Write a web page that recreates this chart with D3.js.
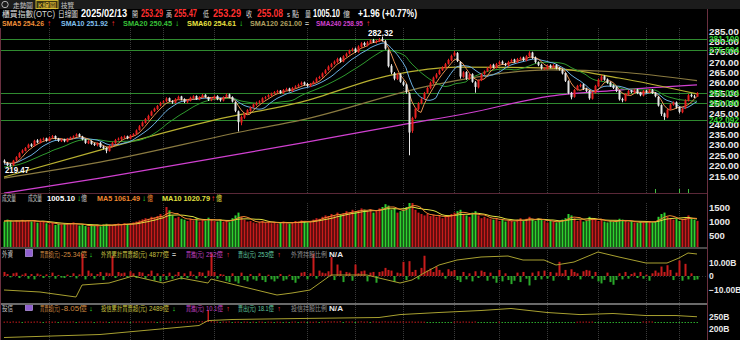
<!DOCTYPE html>
<html>
<head>
<meta charset="utf-8">
<script src="https://cdn.jsdelivr.net/npm/d3@7"></script>
<style>
body{margin:0;background:#000;}
svg{display:block;}
text{font-family:"Liberation Sans","Noto Sans CJK TC",sans-serif;}
</style>
</head>
<body>
<svg id="chart" width="740" height="340"></svg>
<script>
// 日線 資料 (櫃買指數)
var priorCloses = [218.0,217.2,216.5,217.8,218.6,217.9,219.0,218.2,217.5,218.8,219.6,218.9,220.2,221.0,220.4,219.8,221.5,222.3,221.9];
var closes = [
221.5,220.2,220.0,222.4,224.1,226.0,227.3,228.5,230.1,229.4,
232.0,231.2,232.6,233.0,232.1,233.5,234.2,233.0,232.0,232.5,
231.8,233.0,233.6,234.1,235.0,234.2,232.6,231.0,231.8,230.5,
230.0,230.8,229.0,228.4,227.2,229.5,231.0,232.4,233.0,233.8,
234.0,233.2,234.6,235.2,237.0,239.0,240.8,242.5,244.0,246.1,
247.5,248.8,250.2,251.0,252.4,251.2,250.5,252.0,253.2,252.0,
250.8,251.5,252.8,253.5,252.2,253.0,254.0,253.2,251.8,252.5,
253.5,252.0,251.6,253.0,254.2,253.0,251.0,246.5,241.0,243.5,
245.0,246.8,248.0,249.5,250.2,251.0,252.5,253.0,254.0,254.8,
255.5,256.0,255.2,256.5,257.0,256.2,257.5,258.2,259.0,260.0,
259.2,258.5,259.4,260.5,262.0,262.8,264.5,266.0,267.8,269.0,
270.2,271.5,270.5,272.8,274.0,275.5,276.2,275.0,277.5,279.0,
278.2,279.5,280.5,279.8,280.2,281.0,280.5,276.5,268.0,265.0,
262.0,264.0,260.5,259.0,255.5,236.0,243.0,247.5,250.0,252.0,
255.0,257.5,260.0,262.5,264.0,266.0,267.5,269.0,271.0,273.0,
274.5,270.5,263.0,265.0,262.0,264.0,260.5,258.0,261.0,264.0,
265.5,267.0,268.5,267.5,269.0,270.0,269.2,268.5,270.0,271.0,
270.2,271.5,272.0,271.0,272.8,274.5,272.0,270.0,268.5,267.0,
267.0,268.2,267.5,268.5,267.0,266.5,264.5,261.0,255.0,253.0,
256.5,258.5,259.0,257.0,256.0,252.5,255.0,258.5,261.5,263.0,
261.5,260.0,258.5,257.5,256.0,252.0,251.5,254.5,256.0,255.5,
256.5,255.0,254.0,256.0,255.5,256.5,255.0,253.5,249.0,245.0,
243.5,247.0,249.5,250.5,248.0,246.0,247.5,251.5,254.0,253.5,
253.12,255.08];
var opens = [
222.4,221.3,220.4,220.1,222.6,224.0,226.2,227.1,228.6,230.3,
229.6,232.2,231.0,232.5,233.2,232.0,233.6,234.3,233.1,231.8,
232.6,231.6,233.1,233.5,234.2,235.2,234.0,232.8,230.8,231.9,
230.6,229.8,231.0,229.2,228.5,227.0,229.6,230.8,232.5,232.8,
233.9,234.2,233.0,234.4,235.3,237.2,239.1,240.6,242.3,244.2,
246.3,247.3,249.0,250.4,251.1,252.6,251.0,250.3,252.2,253.4,
252.2,250.6,251.3,252.6,253.6,252.0,253.1,254.2,253.0,251.6,
252.3,253.6,252.2,251.4,253.2,254.4,253.1,250.6,246.2,240.8,
243.2,245.3,246.5,248.2,249.3,250.5,250.8,252.7,253.2,253.8,
254.9,255.4,256.2,255.0,256.6,257.2,256.0,257.6,258.3,259.1,
260.2,259.4,258.3,259.6,260.6,262.2,262.9,264.6,266.2,267.7,
269.2,270.0,271.8,270.3,272.9,274.1,275.6,276.5,274.8,277.3,
279.2,278.0,279.3,280.6,279.6,280.1,281.2,280.0,275.5,268.2,
264.6,261.8,264.2,260.3,259.2,255.0,236.8,243.2,247.3,250.2,
252.3,255.2,257.4,259.8,262.6,264.2,266.1,267.3,269.2,270.8,
273.2,274.3,270.0,262.8,265.2,261.8,264.2,260.2,257.8,261.2,
264.2,265.7,266.8,268.7,267.3,269.1,270.2,269.0,268.3,270.2,
271.2,270.0,271.6,272.2,270.8,272.9,274.6,272.2,269.8,268.7,
266.8,266.9,268.4,267.3,268.6,267.2,266.3,264.7,260.8,255.2,
253.2,256.7,258.3,259.2,257.2,256.2,252.3,255.2,258.3,261.3,
263.2,261.7,260.2,258.7,257.8,256.2,252.2,251.3,254.4,256.2,
255.3,256.7,255.2,253.8,256.2,255.3,256.6,255.2,253.2,249.2,
245.2,243.3,247.2,249.3,250.6,248.2,245.8,247.7,251.3,254.2,
253.4,253.29];
var highs = [
223.0,221.8,221.0,222.8,224.6,226.5,227.9,229.0,230.6,230.8,
232.5,232.8,233.1,233.6,233.5,234.0,234.8,234.6,233.4,233.0,
233.0,233.4,234.0,234.6,235.6,235.6,234.4,233.0,232.3,232.2,
231.0,231.2,231.4,229.6,228.9,229.9,231.5,232.9,233.6,234.2,
234.6,234.5,235.0,235.7,237.5,239.6,241.4,243.0,244.6,246.6,
248.0,249.3,250.8,251.6,253.0,252.9,251.6,252.6,253.8,253.7,
252.5,252.0,253.3,254.0,253.9,253.5,254.6,254.5,253.3,253.0,
254.0,254.0,252.7,253.5,254.8,254.8,253.5,251.0,246.6,244.2,
245.6,247.3,248.6,250.0,250.9,251.6,253.0,253.6,254.5,255.3,
256.0,256.6,256.5,257.0,257.6,257.6,258.0,258.8,259.6,260.6,
260.6,259.9,259.9,261.0,262.6,263.4,265.0,266.6,268.4,269.6,
270.8,272.1,272.3,273.3,274.6,276.0,276.9,277.0,278.1,279.6,
279.8,280.1,281.0,281.2,280.8,281.6,282.32,280.6,276.0,269.0,
265.2,264.8,264.6,261.0,259.6,255.4,243.6,248.0,250.6,252.6,
255.6,258.0,260.6,263.0,264.7,266.5,268.0,269.6,271.6,273.6,
275.4,274.8,270.4,265.6,265.6,264.6,264.6,260.8,261.6,264.6,
266.0,267.6,269.0,269.2,269.6,270.6,270.8,269.6,270.6,271.6,
271.6,272.0,272.6,272.6,273.3,275.2,275.0,272.7,270.3,269.2,
267.6,268.8,268.9,269.0,269.0,267.6,266.8,265.0,261.2,255.6,
257.0,259.0,259.6,259.6,257.6,256.6,255.6,259.0,262.0,263.8,
263.6,262.1,260.6,259.2,258.3,256.5,252.8,255.0,256.6,256.6,
257.0,257.1,255.6,256.5,256.6,257.0,257.0,255.5,253.6,249.6,
245.6,247.5,250.0,251.0,251.0,248.6,248.0,252.0,254.6,254.8,
254.2,255.47];
var lows = [
221.0,219.8,219.47,219.9,222.2,223.8,225.8,226.9,228.3,229.0,
229.2,230.8,230.7,232.1,231.6,231.7,233.2,232.6,231.5,231.4,
231.3,231.3,232.8,233.1,234.0,233.8,232.2,230.5,230.4,230.1,
229.5,229.3,228.6,227.8,226.0,226.8,229.2,230.5,232.1,232.4,
233.3,232.8,232.7,234.1,235.0,236.9,238.8,240.3,242.0,243.9,
245.9,246.9,248.6,250.0,250.7,250.8,249.8,250.0,251.8,251.5,
250.2,250.1,251.0,252.2,251.7,251.6,252.7,252.8,251.2,251.1,
251.9,251.6,250.9,251.0,252.9,252.6,250.5,245.8,236.5,239.5,
242.6,244.8,246.0,247.8,248.9,249.9,250.4,252.0,252.8,253.5,
254.4,255.0,254.7,254.6,256.1,255.8,255.6,257.2,258.0,258.7,
258.7,258.0,257.9,259.2,260.2,261.8,262.5,264.2,265.8,267.3,
268.7,269.6,269.8,269.9,272.4,273.7,275.0,274.4,274.5,276.9,
277.6,277.5,278.9,279.2,279.0,279.7,279.9,276.0,267.4,264.1,
261.2,261.3,260.0,258.4,254.8,225.0,235.8,242.6,246.8,249.6,
251.8,254.7,256.9,259.4,262.0,263.8,265.7,266.9,268.8,270.4,
272.8,270.0,262.0,262.4,261.4,261.4,260.0,255.2,257.3,260.8,
263.8,265.2,266.4,267.0,266.9,268.7,268.8,268.0,267.9,269.8,
269.7,269.6,271.1,270.5,270.4,272.5,271.5,269.4,268.0,266.4,
266.2,266.4,267.0,266.9,266.5,265.9,264.0,260.4,254.5,252.0,
252.8,256.2,257.8,256.5,255.5,251.8,251.9,254.8,257.9,260.8,
261.0,259.5,258.0,257.0,255.5,251.4,250.6,251.0,254.0,255.0,
254.9,254.5,253.5,253.4,255.0,255.0,254.6,253.0,248.5,244.0,
242.1,242.9,246.8,248.9,247.5,245.2,245.3,247.3,251.0,253.0,
252.6,253.29];

// 長期均線 (讀圖取點)
var sma60At = [0,32,70,99,129,151,182,205,231];
var sma60Val = [214.5,227.5,242.0,250.7,263.7,267.6,267.1,262.3,254.61];
var sma120At = [0,32,82,99,143,182,205,231];
var sma120Val = [214.0,221.7,237.2,242.0,258.9,266.2,265.2,261.0];
var sma240At = [0,32,82,99,132,155,182,205,231];
var sma240Val = [206.7,214.0,226.5,230.9,239.6,245.4,253.6,256.5,258.95];

var fibLevels = [281.100,275.604,255.024,250.040,242.092];
var priceTicks = [285,280,275,270,265,260,255,250,245,240,235,230,225,220,215];

// 成交量 (億)
var priorVolumes = [1000,980,1020,990,1010,970,1030,1000,990];
var volumes = [
980,1050,1010,960,1020,990,1040,1000,1030,980,
1010,940,960,1000,920,880,930,860,900,870,
910,880,920,950,880,840,870,820,800,850,
830,870,810,880,900,860,840,880,910,870,
920,880,900,950,980,1020,1060,1100,1080,1150,
1120,1180,1250,1150,1500,1380,1200,1100,1150,1080,
1050,1000,1080,1020,1100,980,1040,1000,1120,1060,
1000,980,1050,970,1010,960,1100,1200,1300,1150,
1050,980,1000,950,920,960,1000,940,980,920,
950,900,940,980,920,900,960,1000,980,1020,
980,950,1000,1050,1100,1080,1150,1200,1180,1250,
1200,1300,1220,1280,1350,1300,1400,1320,1380,1450,
1400,1350,1420,1300,1380,1450,1500,1600,1550,1400,
1450,1300,1350,1400,1500,1800,1650,1400,1300,1250,
1200,1250,1180,1220,1150,1200,1100,1150,1200,1250,
1300,1350,1400,1250,1200,1150,1300,1350,1200,1100,
1150,1100,1080,1050,1100,1000,1050,980,1020,1000,
980,1050,1100,1000,1080,1150,1050,1000,1100,1050,
1000,950,1000,980,950,1000,1050,1100,1250,1200,
1100,1000,1050,980,1000,1150,1100,1050,1000,1050,
980,950,1000,970,1000,1080,1050,1000,960,980,
950,930,970,950,980,1000,950,1000,1150,1250,
1300,1150,1100,1050,1080,1000,1050,1100,1200,1100,
1050,1005.1];
var volTicks = [1500,1000,500];

// 外資 買賣超 (億)
var foreignNet = [
30,15,-10,20,25,-15,10,20,-20,15,
-25,18,10,-15,12,-10,25,-20,8,-12,
-15,10,-8,20,-18,12,165,-25,40,20,
-20,15,30,-30,25,20,150,-15,30,20,
25,-10,35,20,-15,30,25,-20,15,40,
-35,20,-40,15,-30,25,-20,10,30,-25,
20,-15,35,10,-20,30,25,-15,40,165,
30,-20,15,10,-35,-45,20,-40,-55,25,
-30,-40,15,-25,-35,20,-30,-45,10,-25,
-40,-20,15,-35,-25,10,-30,-50,-20,25,
30,-25,20,165,-20,40,25,20,35,140,
-30,85,40,-45,30,25,-35,85,20,35,
40,-40,25,30,-50,30,35,60,45,40,
-45,25,20,105,-30,110,30,45,-25,60,
150,40,55,30,70,45,25,-20,50,35,
45,-30,-45,30,-25,20,-40,35,-15,40,
30,-35,25,-20,-50,45,-40,20,-30,-60,
-35,25,-45,30,-20,-70,25,-30,35,-25,
40,-20,30,-35,25,105,20,45,-30,50,
30,20,-25,35,45,40,-20,30,-40,-55,
-30,25,-45,-65,-30,20,-25,30,-20,15,
25,-15,30,-20,10,-35,20,40,25,70,
30,80,45,-30,25,115,-35,90,-25,20,
-30,-25.34];
var foreignCumAt = [0,12,24,26,35,43,53,59,68,69,91,96,102,109,121,125,132,136,140,145,151,159,168,173,180,184,190,198,205,214,221,225,228,231];
var foreignCumVal = [3437,3357,3157,3637,3717,3997,3717,3917,3717,3877,3237,3317,3437,4037,4037,3917,3717,3837,4117,4437,4637,4757,4797,4637,4637,4437,4557,4957,4757,4517,4517,4717,4917,4877];

// 投信 買賣超 (億)
var trustNet = [
6,8,4,9,5,7,-3,6,8,5,
7,9,4,-2,6,8,5,7,-4,6,
8,5,7,9,-3,6,4,8,5,7,
-5,6,8,4,7,-3,5,9,6,4,
7,5,-4,8,6,9,5,7,4,8,
6,-3,7,5,8,6,9,4,7,5,
8,6,10,12,9,14,11,15,210,12,
8,6,-4,7,5,9,-6,4,6,-5,
7,5,-3,6,-4,8,5,-6,7,4,
-5,6,4,-3,5,-7,6,8,-4,5,
7,-5,6,4,8,-3,9,6,11,8,
10,7,12,-4,9,6,8,-5,7,10,
6,8,-6,9,7,5,8,10,6,8,
7,5,8,9,6,7,8,5,7,6,
5,-8,-6,-9,-7,-5,-8,-6,-4,-7,
6,9,5,8,7,6,4,8,-5,-9,
-7,-6,-8,-5,-9,6,-7,-5,-8,-6,
-9,-7,-5,-8,-6,-4,-7,-9,-5,-6,
-8,-6,-7,-5,-6,-4,-7,-9,-6,-8,
-6,5,7,6,8,5,7,-5,-9,-6,
-7,-5,-8,-6,-9,-7,-5,-8,-6,-7,
-5,-8,-6,9,6,10,8,-12,-5,-7,
-6,-8,-5,-9,-7,-6,-8,-5,-9,-7,
-6,-8.05];
var trustCumAt = [0,32,65,68,76,99,125,132,145,159,169,181,192,203,214,224,231];
var trustCumVal = [1625,1750,2125,2330,2375,2417,2458,2580,2667,2750,2833,2667,2580,2625,2540,2540,2489];

var gridIdx = [15,42,53,70,101,117,133,150,165,181,198,214,225];
var markIdx = [217,225,228];

var svg = d3.select("#chart");
var N = closes.length;
var plotRight = 707;

svg.append("rect").attr("width",740).attr("height",340).attr("fill","#000");

var x = d3.scaleLinear().domain([0, N - 1]).range([4, 697]);

function sma(arr, n, prior) {
	var all = prior.concat(arr);
	return arr.map(function(d, i) {
		var j = i + prior.length;
		if (j < n - 1) return null;
		return d3.mean(all.slice(j - n + 1, j + 1));
	});
}

// 文字 (寬度依原圖)
function label(px, py, txt, color, len, size, bold) {
	var t = svg.append("text").attr("x",px).attr("y",py).attr("fill",color)
		.attr("font-size",size || 8).attr("font-weight",bold ? "bold" : "normal").text(txt);
	if (len) t.attr("textLength",len).attr("lengthAdjust","spacingAndGlyphs");
	return t;
}
var arrowColor = {"↑":"#ff3030","↓":"#30e030","=":"#c0c0c0"};

// ---------- 上方標題列 ----------
svg.append("rect").attr("x",0).attr("y",0).attr("width",740).attr("height",9).attr("fill","#1c1c1c");
svg.append("circle").attr("cx",5).attr("cy",4.5).attr("r",3.2).attr("fill","none").attr("stroke","#b0b0b0");
svg.append("rect").attr("x",36).attr("y",0.5).attr("width",22).attr("height",8).attr("fill","#3a3410").attr("stroke","#c8b030");
label(13,7.5,"走勢圖","#c8c8c8",20,7);
label(38,7.5,"K線圖","#f0d040",18,7);
label(61,7.5,"技覽","#c8c8c8",13,7);

label(2,17,"櫃買指數(OTC)","#d8d8d8",53,8.5);
label(58,17,"日線圖","#d8d8d8",20,8.5);
label(81,17,"2025/02/13","#ffffff",46,10,true);
label(132,17,"開","#d8d8d8",6,8);
label(141,17,"253.29","#ff3030",22,10,true);
label(166,17,"高","#d8d8d8",6,8);
label(174,17,"255.47","#ff3030",23,10,true);
label(203,17,"低","#d8d8d8",6,8);
label(213,17,"253.29","#ff3030",28,10,true);
label(246,17,"收","#d8d8d8",6,8);
label(257,17,"255.08","#ff3030",26,10,true);
label(287,17,"s","#d8d8d8",3,8);
label(292,17,"點","#d8d8d8",7,8);
label(305,17,"量","#d8d8d8",6,8);
label(313,17,"1005.10","#ffffff",27,10,true);
label(343,17,"億","#d8d8d8",7,8);
label(358,17,"+1.96 (+0.77%)","#ffffff",59,10,true);

// 均線圖例
var maNames = ["SMA5","SMA10","SMA20","SMA60","SMA120","SMA240"];
var maLast = ["254.26","251.92","250.45","254.61","261.00","258.95"];
var maArrow = ["↑","↑","↓","↓","=","↑"];
var maColors = ["#f0903a","#80c0f0","#38c038","#e8e040","#b0a060","#d040d0"];
var maLegendX = [2,61,123,187,250,316];
var maLegendW = [42,47,49,49,52,47];
maNames.forEach(function(n, i) {
	label(maLegendX[i],26,n + " " + maLast[i],maColors[i],maLegendW[i],8,true);
	label(maLegendX[i] + maLegendW[i] + 3,26,maArrow[i],arrowColor[maArrow[i]],4,8,true);
});

// ---------- 價格區 ----------
var pTop = 28, pBot = 193;
var yP = d3.scaleLinear().domain([215, 285]).range([176, 31]);
svg.append("clipPath").attr("id","clipP").append("rect").attr("x",0).attr("y",pTop).attr("width",plotRight).attr("height",pBot-pTop);
var gP = svg.append("g").attr("clip-path","url(#clipP)");

gP.selectAll("line.grid").data(gridIdx).enter().append("line").attr("class","grid")
	.attr("x1",function(d){return Math.round(x(d))+0.5;}).attr("x2",function(d){return Math.round(x(d))+0.5;})
	.attr("y1",pTop).attr("y2",pBot).attr("stroke","#3a3a3a").attr("stroke-dasharray","1,1");

gP.selectAll("line.fib").data(fibLevels).enter().append("line").attr("class","fib")
	.attr("x1",0).attr("x2",plotRight)
	.attr("y1",function(d){return Math.round(yP(d))+0.5;}).attr("y2",function(d){return Math.round(yP(d))+0.5;})
	.attr("stroke","#2f8a2f").attr("stroke-width",1);

var lineGen = d3.line().defined(function(d){return d[1] != null;})
	.x(function(d){return x(d[0]);}).y(function(d){return yP(d[1]);});
var smoothGen = d3.line().curve(d3.curveMonotoneX)
	.x(function(d){return x(d[0]);}).y(function(d){return yP(d[1]);});

function knots(at, val){ return at.map(function(a,i){return [a, val[i]];}); }
gP.append("path").attr("d",smoothGen(knots(sma240At,sma240Val))).attr("fill","none").attr("stroke",maColors[5]).attr("stroke-width",1.2);
gP.append("path").attr("d",smoothGen(knots(sma120At,sma120Val))).attr("fill","none").attr("stroke","#8a7a40").attr("stroke-width",1.2);
gP.append("path").attr("d",smoothGen(knots(sma60At,sma60Val))).attr("fill","none").attr("stroke","#b8b030").attr("stroke-width",1.2);

var sma5 = sma(closes,5,priorCloses), sma10 = sma(closes,10,priorCloses), sma20 = sma(closes,20,priorCloses);
[[sma20,"#2e9a2e"],[sma10,"#6aaee0"],[sma5,"#e89050"]].forEach(function(s){
	gP.append("path").attr("d",lineGen(s[0].map(function(v,i){return [i,v];})))
		.attr("fill","none").attr("stroke",s[1]).attr("stroke-width",1);
});

var candles = gP.selectAll("g.k").data(closes).enter().append("g").attr("class","k");
function upColor(i){ return closes[i] >= opens[i] ? "#e82020" : "#e6e6e6"; }
candles.append("line")
	.attr("x1",function(d,i){return Math.round(x(i))+0.5;}).attr("x2",function(d,i){return Math.round(x(i))+0.5;})
	.attr("y1",function(d,i){return yP(highs[i]);}).attr("y2",function(d,i){return yP(lows[i]);})
	.attr("stroke",function(d,i){return upColor(i);});
candles.append("rect")
	.attr("x",function(d,i){return Math.round(x(i))-0.5;}).attr("width",2)
	.attr("y",function(d,i){return yP(Math.max(opens[i],closes[i]));})
	.attr("height",function(d,i){return Math.max(1, Math.abs(yP(opens[i]) - yP(closes[i])));})
	.attr("fill",function(d,i){return upColor(i);});

// 最高 / 最低標示
var hiIdx = d3.maxIndex(highs), loIdx = d3.minIndex(lows.slice(0,20));
label(x(hiIdx)-14,yP(highs[hiIdx])-1,d3.format(".2f")(highs[hiIdx]),"#ffffff",25,9,true);
label(x(loIdx)-5,yP(lows[loIdx])+6,d3.format(".2f")(lows[loIdx]),"#ffffff",24,9,true);

svg.selectAll("line.mark").data(markIdx).enter().append("line").attr("class","mark")
	.attr("x1",function(d){return Math.round(x(d))+0.5;}).attr("x2",function(d){return Math.round(x(d))+0.5;})
	.attr("y1",pBot-4).attr("y2",pBot).attr("stroke","#40c040");

function styleAxis(g, len) {
	g.select(".domain").remove();
	g.selectAll("text").attr("fill","#e8e8e8").attr("font-size",9.5).attr("font-weight","bold")
		.attr("text-anchor","start").attr("x",2);
	if (len) g.selectAll("text").attr("textLength",len).attr("lengthAdjust","spacingAndGlyphs");
}
var axP = svg.append("g").attr("transform","translate(" + plotRight + ",0)")
	.call(d3.axisRight(yP).tickValues(priceTicks).tickFormat(d3.format(".2f")).tickSize(0));
styleAxis(axP, 30);

svg.selectAll("text.fibl").data(fibLevels).enter().append("text").attr("class","fibl")
	.attr("x",plotRight+2).attr("y",function(d){return yP(d)+3;})
	.attr("font-size",8.5).attr("font-weight","bold").attr("fill","#30d030")
	.attr("textLength",30).attr("lengthAdjust","spacingAndGlyphs")
	.text(function(d){return d3.format(".3f")(d);});

// ---------- 成交量 ----------
var vTop = 193, vBot = 247;
var yV = d3.scaleLinear().domain([0, 1500]).range([249, 207]);
svg.append("clipPath").attr("id","clipV").append("rect").attr("x",0).attr("y",vTop+10).attr("width",plotRight).attr("height",vBot-vTop-10);
var gV = svg.append("g").attr("clip-path","url(#clipV)");
gV.selectAll("line.grid").data(gridIdx).enter().append("line").attr("class","grid")
	.attr("x1",function(d){return Math.round(x(d))+0.5;}).attr("x2",function(d){return Math.round(x(d))+0.5;})
	.attr("y1",vTop).attr("y2",vBot).attr("stroke","#3a3a3a").attr("stroke-dasharray","1,1");
gV.selectAll("rect.v").data(volumes).enter().append("rect").attr("class","v")
	.attr("x",function(d,i){return Math.round(x(i))-0.5;}).attr("width",2)
	.attr("y",function(d){return yV(d);}).attr("height",function(d){return vBot - yV(d);})
	.attr("fill",function(d,i){return closes[i] >= opens[i] ? "#c81c1c" : "#30d030";});
var vol5 = sma(volumes,5,priorVolumes), vol10 = sma(volumes,10,priorVolumes);
var vLine = d3.line().defined(function(d){return d[1] != null;}).x(function(d){return x(d[0]);}).y(function(d){return yV(d[1]);});
gV.append("path").attr("d",vLine(vol10.map(function(v,i){return [i,v];}))).attr("fill","none").attr("stroke","#e0e040").attr("stroke-width",1);
gV.append("path").attr("d",vLine(vol5.map(function(v,i){return [i,v];}))).attr("fill","none").attr("stroke","#f08830").attr("stroke-width",1);

var axV = svg.append("g").attr("transform","translate(" + plotRight + ",0)")
	.call(d3.axisRight(yV).tickValues(volTicks).tickFormat(d3.format("d")).tickSize(0));
styleAxis(axV);

label(2,201,"成交量","#c8c8c8",14,7.5);
label(28,201,"成交量","#c8c8c8",14,7.5);
label(47,201,"1005.10","#ffffff",28,8,true);
label(77,201,"↓","#30e030",4,8,true);
label(81,201,"億","#c8c8c8",6,7.5);
label(97,201,"MA5 1061.49","#f08830",43,8,true);
label(142,201,"↓","#30e030",4,8,true);
label(147,201,"億","#f08830",6,7.5);
label(162,201,"MA10 1020.79","#e0e040",48,8,true);
label(211,201,"↑","#ff3030",4,8,true);
label(216,201,"億","#e0e040",6,7.5);

// ---------- 外資 ----------
var fTop = 248, fBot = 303;
var yF = d3.scaleLinear().domain([-100, 100]).range([289.5, 262.5]);
var yFc = d3.scaleLinear().domain(d3.extent(foreignCumVal)).range([297, 252]);
svg.append("clipPath").attr("id","clipF").append("rect").attr("x",0).attr("y",fTop).attr("width",plotRight).attr("height",fBot-fTop);
var gF = svg.append("g").attr("clip-path","url(#clipF)");
gF.selectAll("line.grid").data(gridIdx).enter().append("line").attr("class","grid")
	.attr("x1",function(d){return Math.round(x(d))+0.5;}).attr("x2",function(d){return Math.round(x(d))+0.5;})
	.attr("y1",fTop).attr("y2",fBot).attr("stroke","#3a3a3a").attr("stroke-dasharray","1,1");
gF.append("line").attr("x1",0).attr("x2",plotRight).attr("y1",Math.round(yF(0))+0.5).attr("y2",Math.round(yF(0))+0.5)
	.attr("stroke","#303030").attr("stroke-dasharray","1,2");
gF.selectAll("rect.f").data(foreignNet).enter().append("rect").attr("class","f")
	.attr("x",function(d,i){return Math.round(x(i))-0.5;}).attr("width",2)
	.attr("y",function(d){return d >= 0 ? yF(d) : yF(0);})
	.attr("height",function(d){return Math.max(1, Math.abs(yF(d) - yF(0)));})
	.attr("fill",function(d){return d >= 0 ? "#c81c1c" : "#2aa82a";});
gF.append("path").attr("d",d3.line().x(function(d){return x(d[0]);}).y(function(d){return yFc(d[1]);})(knots(foreignCumAt,foreignCumVal)))
	.attr("fill","none").attr("stroke","#a8a030").attr("stroke-width",1);

var axF = svg.append("g").attr("transform","translate(" + plotRight + ",0)")
	.call(d3.axisRight(yF).tickValues([100,0,-100]).tickSize(0)
		.tickFormat(function(d){return d === 0 ? "0" : d3.format(".2f")(d/10) + "B";}));
styleAxis(axF);
axF.selectAll("text").attr("font-size",8.5);

function panelHead(y, name, net, netArrow, cumName, cum, cumArrow, buy, sell, ratioName) {
	label(2,y,name,"#c8c8c8",11,7.5);
	svg.append("rect").attr("x",25.5).attr("y",y-7.5).attr("width",7).attr("height",7).attr("fill","#9060d0").attr("stroke","#d0b0ff").attr("stroke-width",0.6);
	label(40,y,"買賣超(元)","#d08a40",20,7);
	label(61,y,net,"#d08a40",26,7);
	label(89,y,netArrow,arrowColor[netArrow],4,7,true);
	label(101,y,cumName,"#c8c040",46,7);
	label(149,y,cum,"#c8c040",20,7);
	label(172,y,cumArrow,arrowColor[cumArrow],4,7,true);
	label(186,y,"買進(元)","#c040c0",18,7);
	label(206,y,buy,"#c040c0",17,7);
	label(226,y,"↑","#ff3030",4,7,true);
	label(238,y,"賣出(元)","#60c8a0",18,7);
	label(258,y,sell,"#60c8a0",16,7);
	label(277,y,"↑","#ff3030",4,7,true);
	label(291,y,ratioName,"#909090",36,7);
	label(329,y,"N/A","#e8e8e8",14,8,true);
}
panelHead(257, "外資", "-25.34億", "↓", "外資累計買賣超(元)", "4877億", "=", "252億", "253億", "外資持股比例");

// ---------- 投信 ----------
var tTop = 305, tBot = 340;
var yT = d3.scaleLinear().domain([2000, 2500]).range([328.5, 316.5]);
var yTn = d3.scaleLinear().domain([0, 210]).range([322, 310]);
svg.append("clipPath").attr("id","clipT").append("rect").attr("x",0).attr("y",tTop).attr("width",plotRight).attr("height",tBot-tTop);
var gT = svg.append("g").attr("clip-path","url(#clipT)");
gT.selectAll("line.grid").data(gridIdx).enter().append("line").attr("class","grid")
	.attr("x1",function(d){return Math.round(x(d))+0.5;}).attr("x2",function(d){return Math.round(x(d))+0.5;})
	.attr("y1",tTop).attr("y2",tBot).attr("stroke","#3a3a3a").attr("stroke-dasharray","1,1");
gT.selectAll("rect.t").data(trustNet).enter().append("rect").attr("class","t")
	.attr("x",function(d,i){return Math.round(x(i))-0.5;}).attr("width",1.5)
	.attr("y",function(d){return d >= 0 ? yTn(d) : yTn(0);})
	.attr("height",function(d){return Math.max(1, Math.abs(yTn(d) - yTn(0)));})
	.attr("fill",function(d){return d >= 0 ? "#c81c1c" : "#2aa82a";});
gT.append("path").attr("d",d3.line().x(function(d){return x(d[0]);}).y(function(d){return yT(d[1]);})(knots(trustCumAt,trustCumVal)))
	.attr("fill","none").attr("stroke","#a8a030").attr("stroke-width",1);

var axT = svg.append("g").attr("transform","translate(" + plotRight + ",0)")
	.call(d3.axisRight(yT).tickValues([2500,2000]).tickSize(0)
		.tickFormat(function(d){return (d/10) + "B";}));
styleAxis(axT);
axT.selectAll("text").attr("font-size",8.5);

panelHead(311, "投信", "-8.05億", "↓", "投信累計買賣超(元)", "2489億", "↓", "10.1億", "18.1億", "投信持股比例");

// ---------- 分隔線 ----------
svg.append("line").attr("x1",0).attr("x2",plotRight).attr("y1",pBot+0.5).attr("y2",pBot+0.5).attr("stroke","#5a2838");
svg.append("rect").attr("x",0).attr("y",vBot).attr("width",plotRight).attr("height",2).attr("fill","#4a4a4a");
svg.append("rect").attr("x",0).attr("y",fBot).attr("width",plotRight).attr("height",2).attr("fill","#6a6a6a");
svg.append("line").attr("x1",plotRight+0.5).attr("x2",plotRight+0.5).attr("y1",9).attr("y2",340).attr("stroke","#6a3040");
svg.append("line").attr("x1",0.5).attr("x2",0.5).attr("y1",28).attr("y2",340).attr("stroke","#6a3040");
</script>
</body>
</html>
